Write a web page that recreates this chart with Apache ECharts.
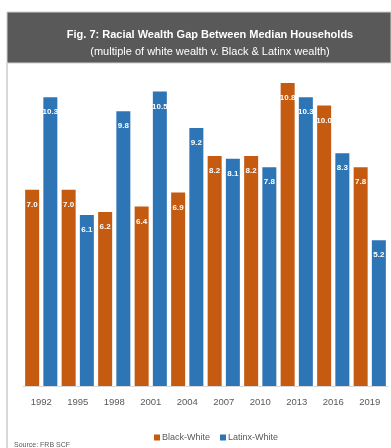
<!DOCTYPE html>
<html><head><meta charset="utf-8">
<script src="https://cdn.jsdelivr.net/npm/echarts@6/dist/echarts.min.js"></script>
<style>html,body{margin:0;padding:0;background:#fff}#c{width:391px;height:448px}</style>
</head><body><div id="c"></div>
<script>
var years = ['1992','1995','1998','2001','2004','2007','2010','2013','2016','2019'];
var blackWhite = [7.0, 7.0, 6.2, 6.4, 6.9, 8.2, 8.2, 10.8, 10.0, 7.8];
var latinxWhite = [10.3, 6.1, 9.8, 10.5, 9.2, 8.1, 7.8, 10.3, 8.3, 5.2];
var seriesNames = ['Black-White', 'Latinx-White'];
var titleText = 'Fig. 7: Racial Wealth Gap Between Median Households';
var subtitleText = '(multiple of white wealth v. Black & Latinx wealth)';
var sourceText = 'Source: FRB SCF';

var FONT = '"Liberation Sans", Arial, sans-serif';
var chart = echarts.init(document.getElementById('c'), null, {renderer: 'canvas'});
var lbl = {
  show: true, position: 'insideTop', distance: 11, color: '#fff',
  fontFamily: FONT, fontWeight: 'bold', fontSize: 8,
  formatter: function (p) { return p.value.toFixed(1); }
};
chart.setOption({
  animation: false,
  graphic: [
    {type: 'rect', shape: {x: 7, y: 12, width: 384, height: 51}, style: {fill: '#595959', stroke: '#d0d0d0', lineWidth: 1}, z: -1},
    {type: 'rect', shape: {x: 6, y: 63, width: 2, height: 385}, style: {fill: '#d9d9d9'}}
  ],
  title: [
    {text: titleText, left: 205, top: 24, textAlign: 'center',
     textStyle: {color: '#fff', fontFamily: FONT, fontWeight: 'bold', fontSize: 11}},
    {text: subtitleText, left: 205, top: 41, textAlign: 'center',
     textStyle: {color: '#fff', fontFamily: FONT, fontWeight: 'normal', fontSize: 11}},
    {text: sourceText, left: 9, top: 437,
     textStyle: {color: '#595959', fontFamily: FONT, fontWeight: 'normal', fontSize: 7}}
  ],
  legend: {
    data: seriesNames, left: 149, top: 428, itemWidth: 6, itemHeight: 6, itemGap: 10,
    icon: 'rect',
    textStyle: {color: '#595959', fontFamily: FONT, fontSize: 9, padding: [0, 0, 0, -3]}
  },
  grid: {left: 23, right: 3, top: 77.5, bottom: 62},
  xAxis: {
    type: 'category', data: years,
    axisLine: {lineStyle: {color: '#d9d9d9', width: 1}},
    axisTick: {show: false},
    axisLabel: {color: '#595959', fontFamily: FONT, fontSize: 9.5, margin: 11}
  },
  yAxis: {type: 'value', min: 0, max: 11, show: false, splitLine: {show: false}},
  series: [
    {name: seriesNames[0], type: 'bar', data: blackWhite, barWidth: 14, barGap: '30%',
     itemStyle: {color: '#C55A11'}, label: lbl},
    {name: seriesNames[1], type: 'bar', data: latinxWhite, barWidth: 14, barGap: '30%',
     itemStyle: {color: '#2E75B6'}, label: lbl}
  ]
});
</script></body></html>
